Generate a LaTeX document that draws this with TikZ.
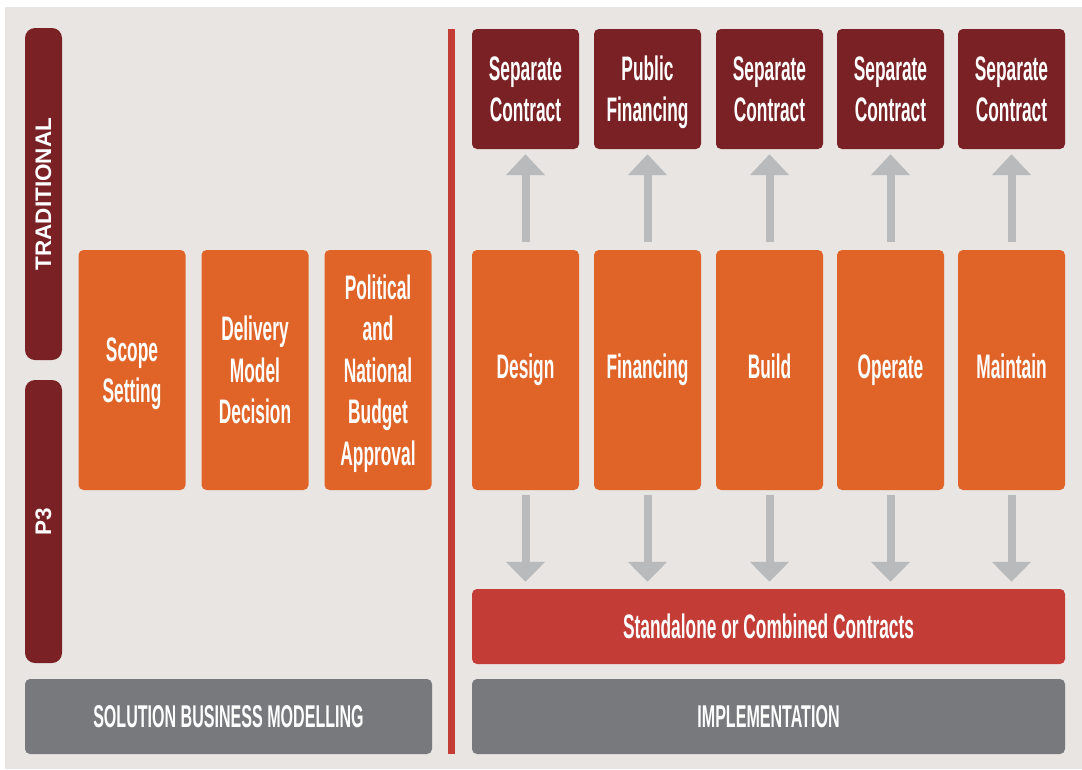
\documentclass[tikz,border=0pt]{standalone}
\usepackage{fontspec}
\usetikzlibrary{arrows.meta}
\newfontfamily\condfont[FakeStretch=0.51]{Liberation Sans Bold}
\newfontfamily\headfont{Liberation Sans Bold}
\definecolor{paper}{HTML}{E8E5E2}
\definecolor{wine}{HTML}{7A2125}
\definecolor{tangerine}{HTML}{E06428}
\definecolor{brick}{HTML}{C43C36}
\definecolor{slate}{HTML}{78797D}
\definecolor{arrowgray}{HTML}{B8BABC}
% line strut that centres capitals on the line
\newcommand\boxline{\rule[-0.253em]{0pt}{1.22em}}
\begin{document}
\begin{tikzpicture}[x=1pt,y=-1pt,
  box/.style={rounded corners=5pt, inner sep=0pt, text=white, align=center,
    font=\condfont\fontsize{34}{41.5}\selectfont},
  phase/.style={box, fill=tangerine, minimum width=107pt, minimum height=240pt},
  contract/.style={box, fill=wine, minimum width=107pt, minimum height=120pt},
  band/.style={box, minimum height=75pt},
  bandtext/.style={font=\condfont\fontsize{31.5}{38}\selectfont},
  pill/.style={rounded corners=10pt, fill=wine, minimum height=37pt, inner sep=0pt,
    text=white, font=\headfont\fontsize{22.5}{26}\selectfont},
  uparrow/.style={draw=arrowgray, line width=8pt,
    -{Triangle[width=38pt,length=21pt]}, shorten <=8pt, shorten >=5pt},
  downarrow/.style={draw=arrowgray, line width=8pt,
    -{Triangle[width=38pt,length=20pt]}, shorten <=5pt, shorten >=7pt}]
  % page and panel
  \useasboundingbox (0,0) rectangle (1082,769);
  \fill[white] (0,0) rectangle (1082,769);
  \fill[paper] (5,7) rectangle (1082,769);

  % side labels
  \node[pill, minimum width=332pt, rotate=90] (trad) at (43.5,194) {TRADITIONAL};
  \node[pill, minimum width=283pt, rotate=90] (pthree) at (43.5,521.5) {P3};

  % business modelling phases
  \node[phase] (scope) at (132,370) {\boxline Scope\\\boxline Setting};
  \node[phase] (delivery) at (255,370) {\boxline Delivery\\\boxline Model\\\boxline Decision};
  \node[phase] (budget) at (378,370)
    {\boxline Political\\\boxline and\\\boxline National\\\boxline Budget\\\boxline Approval};
  \node[band, bandtext, fill=slate, minimum width=407pt]
    (modelling) at (228.5,716.5) {\boxline SOLUTION BUSINESS MODELLING};

  % divider
  \fill[brick] (448,29) rectangle (455,754);

  % implementation phases
  \node[phase] (design) at (525.5,370) {\strut Design};
  \node[phase] (financing) at (647.5,370) {\strut Financing};
  \node[phase] (build) at (769.5,370) {\strut Build};
  \node[phase] (operate) at (890.5,370) {\strut Operate};
  \node[phase] (maintain) at (1011.5,370) {\strut Maintain};

  % traditional contracts
  \node[contract] (c1) at (525.5,89) {\boxline Separate\\\boxline Contract};
  \node[contract] (c2) at (647.5,89) {\boxline Public\\\boxline Financing};
  \node[contract] (c3) at (769.5,89) {\boxline Separate\\\boxline Contract};
  \node[contract] (c4) at (890.5,89) {\boxline Separate\\\boxline Contract};
  \node[contract] (c5) at (1011.5,89) {\boxline Separate\\\boxline Contract};

  % P3 contracts and implementation band
  \node[band, fill=brick, minimum width=593pt] (combined) at (768.5,626.5)
    {\boxline Standalone or Combined Contracts};
  \node[band, bandtext, fill=slate, minimum width=593pt]
    (impl) at (768.5,716.5) {\boxline IMPLEMENTATION};

  % arrows
  \foreach \p/\c in {design/c1, financing/c2, build/c3, operate/c4, maintain/c5}{
    \draw[uparrow] (\p.north) -- (\c.south);
    \draw[downarrow] (\p.south) -- (\p.south |- combined.north);
  }
\end{tikzpicture}
\end{document}
